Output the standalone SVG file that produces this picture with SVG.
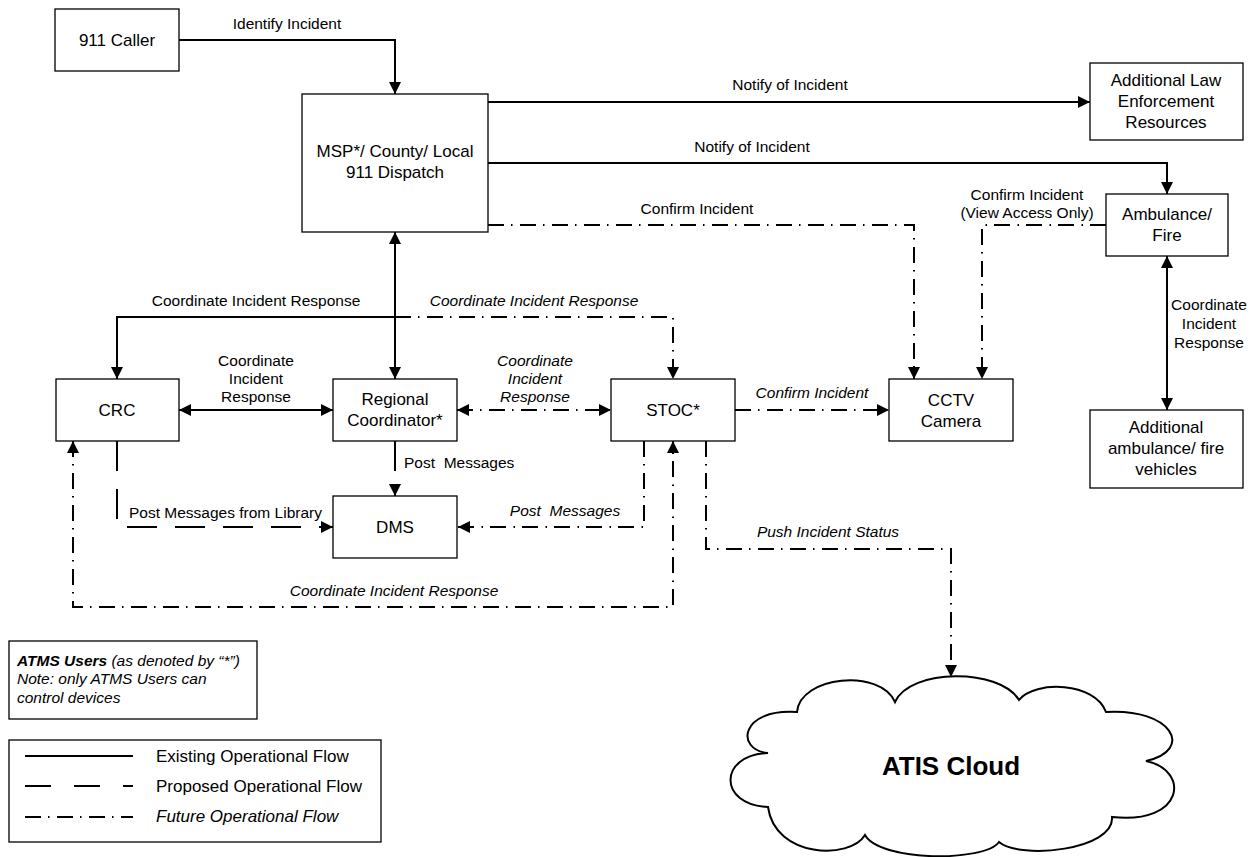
<svg xmlns="http://www.w3.org/2000/svg" width="1255" height="857" viewBox="0 0 1255 857">
<style>
text{font-family:"Liberation Sans",Arial,Helvetica,sans-serif;fill:#000}
.box{fill:#fff;stroke:#000;stroke-width:1.3}
.nt{font-size:17px;text-anchor:middle}
.lb{font-size:15.5px;text-anchor:middle}
.ls{font-size:15.5px}
.it{font-style:italic}
.c{fill:none;stroke:#000;stroke-width:2}
.dash{stroke-dasharray:30 18}
.dd{stroke-dasharray:16 7 1.5 7.5}
.lg{font-size:17px}
</style>
<defs>
<marker id="ah" markerUnits="userSpaceOnUse" markerWidth="12" markerHeight="12" refX="12" refY="6" orient="auto-start-reverse" viewBox="0 0 12 12">
<path d="M0,0 L12,6 L0,12 Z" fill="#000"/>
</marker>
</defs>
<rect width="1255" height="857" fill="#fff"/>

<g id="connectors">
<path class="c" d="M179 40 H395 V94" marker-end="url(#ah)"/>
<path class="c" d="M488 102 H1090" marker-end="url(#ah)"/>
<path class="c" d="M488 163 H1167 V194" marker-end="url(#ah)"/>
<path class="c dd" d="M488 225 H914 V379" marker-end="url(#ah)"/>
<path class="c dd" d="M1106 225 H982 V379" marker-end="url(#ah)"/>
<path class="c" d="M1167 256 V410" marker-start="url(#ah)" marker-end="url(#ah)"/>
<path class="c" d="M395 232 V379" marker-start="url(#ah)" marker-end="url(#ah)"/>
<path class="c" d="M395 317 H117 V379" marker-end="url(#ah)"/>
<path class="c dd" d="M395 317 H673 V379" marker-end="url(#ah)"/>
<path class="c" d="M179 410 H333" marker-start="url(#ah)" marker-end="url(#ah)"/>
<path class="c dd" d="M457 410 H611" marker-start="url(#ah)" marker-end="url(#ah)"/>
<path class="c dd" d="M735 410 H889" marker-end="url(#ah)"/>
<path class="c dash" d="M395 441 V496" marker-end="url(#ah)"/>
<path class="c dash" d="M117 441 V527 H333" marker-end="url(#ah)"/>
<path class="c dd" d="M644 441 V527 H458" marker-end="url(#ah)"/>
<path class="c dd" d="M73 441 V607 H673 V441" marker-start="url(#ah)" marker-end="url(#ah)"/>
<path class="c dd" d="M706 441 V549 H951 V677" marker-end="url(#ah)"/>

<text class="lb" x="287" y="29">Identify Incident</text>
<text class="lb" x="790" y="90">Notify of Incident</text>
<text class="lb" x="752" y="152">Notify of Incident</text>
<text class="lb" x="697" y="214">Confirm Incident</text>
<text class="lb" x="1027" y="200">Confirm Incident</text>
<text class="lb" x="1027" y="218">(View Access Only)</text>
<text class="lb" x="256" y="306">Coordinate Incident Response</text>
<text class="lb it" x="534" y="306">Coordinate Incident Response</text>
<text class="lb" x="256" y="366">Coordinate</text>
<text class="lb" x="256" y="384">Incident</text>
<text class="lb" x="256" y="402">Response</text>
<text class="lb it" x="535" y="366">Coordinate</text>
<text class="lb it" x="535" y="384">Incident</text>
<text class="lb it" x="535" y="402">Response</text>
<text class="lb it" x="812" y="398">Confirm Incident</text>
<text class="lb" x="1209" y="310">Coordinate</text>
<text class="lb" x="1209" y="329">Incident</text>
<text class="lb" x="1209" y="348">Response</text>
<text class="ls" x="404" y="468" xml:space="preserve">Post  Messages</text>
<text class="ls" x="129" y="518">Post Messages from Library</text>
<text class="lb it" x="565" y="516" xml:space="preserve">Post  Messages</text>
<text class="lb it" x="828" y="537">Push Incident Status</text>
<text class="lb it" x="394" y="596">Coordinate Incident Response</text>
</g>

<g id="caller">
<rect class="box" x="55" y="9" width="124" height="62"/>
<text class="nt" x="117" y="46">911 Caller</text>
</g>
<g id="msp">
<rect class="box" x="302" y="94" width="186" height="138"/>
<text class="nt" x="395" y="157">MSP*/ County/ Local</text>
<text class="nt" x="395" y="178">911 Dispatch</text>
</g>
<g id="addlaw">
<rect class="box" x="1090" y="63" width="153" height="77"/>
<text class="nt" x="1166" y="86">Additional Law</text>
<text class="nt" x="1166" y="107">Enforcement</text>
<text class="nt" x="1166" y="128">Resources</text>
</g>
<g id="ambulance">
<rect class="box" x="1106" y="194" width="122" height="62"/>
<text class="nt" x="1167" y="220">Ambulance/</text>
<text class="nt" x="1167" y="241">Fire</text>
</g>
<g id="addamb">
<rect class="box" x="1090" y="410" width="153" height="78"/>
<text class="nt" x="1166" y="433">Additional</text>
<text class="nt" x="1166" y="454">ambulance/ fire</text>
<text class="nt" x="1166" y="475">vehicles</text>
</g>
<g id="crc">
<rect class="box" x="56" y="379" width="123" height="62"/>
<text class="nt" x="117" y="416">CRC</text>
</g>
<g id="rc">
<rect class="box" x="333" y="379" width="124" height="62"/>
<text class="nt" x="395" y="405">Regional</text>
<text class="nt" x="395" y="426">Coordinator*</text>
</g>
<g id="stoc">
<rect class="box" x="611" y="379" width="124" height="62"/>
<text class="nt" x="673" y="416">STOC*</text>
</g>
<g id="cctv">
<rect class="box" x="889" y="379" width="124" height="62"/>
<text class="nt" x="951" y="406">CCTV</text>
<text class="nt" x="951" y="427">Camera</text>
</g>
<g id="dms">
<rect class="box" x="333" y="496" width="124" height="62"/>
<text class="nt" x="395" y="533">DMS</text>
</g>
<g id="cloud">
<path d="M797 712 C800 676 880 668 895 702 C910 668 1000 668 1019 700 C1035 680 1095 682 1106 712 C1172 708 1195 750 1146 761 C1190 770 1185 825 1112 817 C1115 850 1020 860 999 842 C985 862 880 862 865 835 C850 860 775 858 768 807 C718 805 718 755 768 753 C735 750 740 708 797 712 Z" fill="#fff" stroke="#000" stroke-width="2"/>
<text x="951" y="775" text-anchor="middle" font-size="26" font-weight="bold">ATIS Cloud</text>
</g>
<g id="note">
<rect class="box" x="9" y="641" width="248" height="78"/>
<text class="ls it" x="17" y="666"><tspan font-weight="bold">ATMS Users</tspan> (as denoted by “*”)</text>
<text class="ls it" x="17" y="684">Note: only ATMS Users can</text>
<text class="ls it" x="17" y="703">control devices</text>
</g>
<g id="legend">
<rect class="box" x="9" y="740" width="372" height="102"/>
<path class="c" d="M25 756 H133"/>
<path class="c" d="M25 786 H133" stroke-dasharray="26 23"/>
<path class="c dd" d="M25 817 H133"/>
<text class="lg" x="156" y="762">Existing Operational Flow</text>
<text class="lg" x="156" y="792">Proposed Operational Flow</text>
<text class="lg it" x="156" y="822">Future Operational Flow</text>
</g>
</svg>
